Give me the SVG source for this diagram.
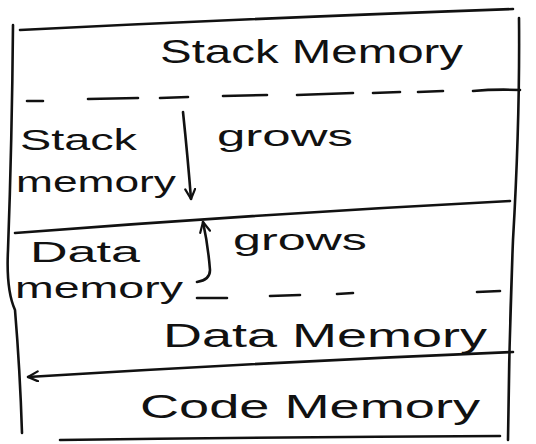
<svg xmlns="http://www.w3.org/2000/svg" width="536" height="444" viewBox="0 0 536 444">
  <style>
    .ink { fill: none; stroke: #111; stroke-width: 2.6; stroke-linecap: round; stroke-linejoin: round; }
    .lbl { font-family: "Liberation Sans", "DejaVu Sans", sans-serif; fill: #111; }
    .big { font-size: 34px; }
    .small { font-size: 30px; }
  </style>
  <defs>
    <marker id="head" viewBox="0 0 12 12" refX="11" refY="6" markerWidth="12" markerHeight="12" markerUnits="userSpaceOnUse" orient="auto">
      <path d="M1,1 L11,6 L1,11" fill="none" stroke="#111" stroke-width="2.2" stroke-linecap="round" stroke-linejoin="round"/>
    </marker>
  </defs>

  <rect width="536" height="444" fill="#ffffff"/>

  <!-- outer frame -->
  <g id="frame">
    <path class="ink" d="M20,30 Q260,18 513,9"/>
    <path class="ink" d="M13,25 Q12,140 8,250 Q6,290 15,310 Q20,370 22,433"/>
    <path class="ink" d="M519,18 Q520,120 513,240 Q509,340 508,440"/>
    <path class="ink" d="M60,440 Q280,437 500,436"/>
  </g>

  <!-- stack memory region -->
  <g id="stack-memory">
    <text class="lbl big" x="160" y="63" textLength="303" lengthAdjust="spacingAndGlyphs">Stack Memory</text>
    <path class="ink" d="M27,101 L43,101 M88,99 L138,98 M160,98 L188,97 M223,96 L267,95 M297,95 L353,93 M373,93 L400,92 M418,92 L443,91 M473,91 Q495,89 520,90"/>
  </g>

  <!-- growing stack -->
  <g id="stack-grows">
    <text class="lbl small" x="20" y="150" textLength="117" lengthAdjust="spacingAndGlyphs">Stack</text>
    <text class="lbl small" x="16" y="192" textLength="160" lengthAdjust="spacingAndGlyphs">memory</text>
    <text class="lbl small" x="217" y="146" textLength="136" lengthAdjust="spacingAndGlyphs">grows</text>
  </g>

  <!-- boundary between stack and data -->
  <g id="stack-data-boundary">
    <path class="ink" d="M15,233 Q260,214 510,201"/>
  </g>

  <!-- growing data -->
  <g id="data-grows">
    <text class="lbl small" x="30" y="262" textLength="110" lengthAdjust="spacingAndGlyphs">Data</text>
    <text class="lbl small" x="15" y="298" textLength="168" lengthAdjust="spacingAndGlyphs">memory</text>
    <text class="lbl small" x="233" y="250" textLength="134" lengthAdjust="spacingAndGlyphs">grows</text>
  </g>

  <!-- data memory region -->
  <g id="data-memory">
    <path class="ink" d="M197,298 L227,298 M270,296 L300,295 M337,294 L353,293 M477,292 L500,291"/>
    <text class="lbl big" x="163" y="347" textLength="324" lengthAdjust="spacingAndGlyphs">Data Memory</text>
  </g>

  <!-- code memory region -->
  <g id="code-memory">
    <text class="lbl big" x="140" y="418" textLength="340" lengthAdjust="spacingAndGlyphs">Code Memory</text>
  </g>

  <!-- growth arrows and the data/code boundary -->
  <g id="connectors">
    <path class="ink" d="M183,112 Q188,160 191,199" marker-end="url(#head)"/>
    <path class="ink" d="M197,282 Q210,280 210,270 Q208,245 203,222" marker-end="url(#head)"/>
    <path class="ink" d="M513,352 Q270,362 28,377" marker-end="url(#head)"/>
  </g>
</svg>
